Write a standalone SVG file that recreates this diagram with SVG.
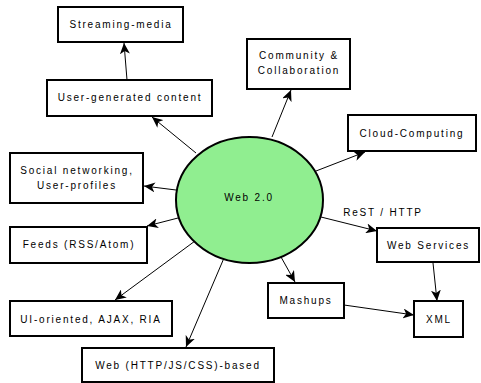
<svg xmlns="http://www.w3.org/2000/svg" width="481" height="383" viewBox="0 0 481 383">
<defs>
<marker id="arr" markerUnits="userSpaceOnUse" markerWidth="12" markerHeight="10" viewBox="0 0 12 10" refX="11" refY="5" orient="auto">
<path d="M0,0 L11,5 L0,10 L3,5 Z" fill="#000"/>
</marker>
<style>
.box{fill:#fff;stroke:#000;stroke-width:2}
.t{font-family:"Liberation Sans",Arial,sans-serif;font-size:10px;letter-spacing:1.8px;fill:#000;text-anchor:middle}
.c{stroke:#000;stroke-width:1;fill:none;marker-end:url(#arr)}
</style>
</defs>
<rect width="481" height="383" fill="#fff"/>
<g id="connectors">
<line class="c" x1="196" y1="153" x2="152" y2="117"/>
<line class="c" x1="127" y1="80" x2="124" y2="43"/>
<line class="c" x1="272" y1="137" x2="291" y2="90"/>
<line class="c" x1="316" y1="171" x2="365" y2="152"/>
<line class="c" x1="176" y1="190" x2="144" y2="186"/>
<line class="c" x1="178" y1="218" x2="147" y2="226"/>
<line class="c" x1="195" y1="241" x2="115" y2="300"/>
<line class="c" x1="224" y1="258" x2="186" y2="347"/>
<line class="c" x1="281" y1="257" x2="295" y2="282"/>
<line class="c" x1="321" y1="217" x2="377" y2="231"/>
<line class="c" x1="433" y1="263" x2="437" y2="301"/>
<line class="c" x1="344" y1="305" x2="414" y2="315"/>
<text class="t" x="383" y="216">ReST / HTTP</text>
</g>
<g id="web20">
<ellipse cx="249.5" cy="200" rx="73.5" ry="63" fill="#90ee90" stroke="#000" stroke-width="2"/>
<text class="t" x="249" y="201">Web 2.0</text>
</g>
<g id="streaming-media">
<rect class="box" x="58" y="7" width="125" height="35"/>
<text class="t" x="121" y="28">Streaming-media</text>
</g>
<g id="user-generated">
<rect class="box" x="47" y="80" width="165" height="36"/>
<text class="t" x="130" y="101">User-generated content</text>
</g>
<g id="community">
<rect class="box" x="247" y="39" width="103" height="50"/>
<text class="t" x="299" y="59">Community &amp;</text>
<text class="t" x="299" y="74">Collaboration</text>
</g>
<g id="cloud">
<rect class="box" x="348" y="115" width="128" height="36"/>
<text class="t" x="412" y="136.5">Cloud-Computing</text>
</g>
<g id="social">
<rect class="box" x="10" y="153" width="133" height="50"/>
<text class="t" x="77" y="174">Social networking,</text>
<text class="t" x="77" y="189">User-profiles</text>
</g>
<g id="feeds">
<rect class="box" x="10" y="227" width="137" height="36"/>
<text class="t" x="79" y="248">Feeds (RSS/Atom)</text>
</g>
<g id="web-services">
<rect class="box" x="377" y="228" width="102" height="34"/>
<text class="t" x="428.5" y="248.5">Web Services</text>
</g>
<g id="mashups">
<rect class="box" x="268" y="283" width="76" height="35"/>
<text class="t" x="306" y="304">Mashups</text>
</g>
<g id="xml">
<rect class="box" x="414" y="301" width="49" height="36"/>
<text class="t" x="439" y="322.5">XML</text>
</g>
<g id="ui-oriented">
<rect class="box" x="10" y="301" width="162" height="35"/>
<text class="t" x="91" y="322.5">UI-oriented, AJAX, RIA</text>
</g>
<g id="web-based">
<rect class="box" x="82" y="348" width="192" height="34"/>
<text class="t" x="178" y="369">Web (HTTP/JS/CSS)-based</text>
</g>
</svg>
